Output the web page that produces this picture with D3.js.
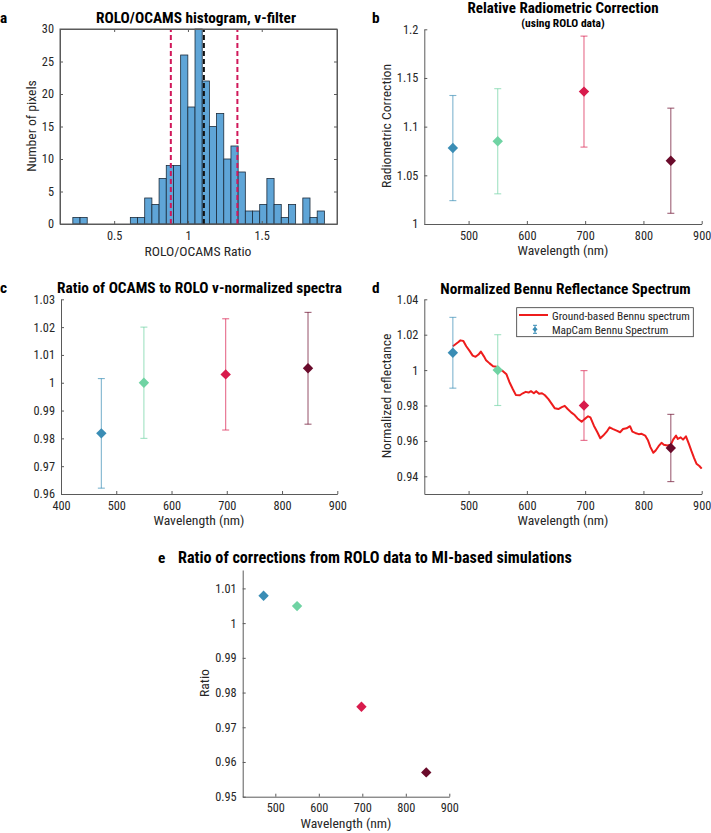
<!DOCTYPE html>
<html>
<head>
<meta charset="utf-8">
<script src="https://cdn.jsdelivr.net/npm/d3@7"></script>
<style>
  html, body { margin: 0; padding: 0; background: #fff; }
  svg { display: block; }
</style>
</head>
<body>
<svg id="chart" width="711" height="833"></svg>
<script>
// ---------------- DATA ----------------
// Panel a: histogram
const histCounts = [1,1,0,0,0,0,0,0,1,1,4,3,7,9,9,26,18,30,22,15,17,10,12,8,2,2,3,7,3,1,3,0,4,1,2];
const histBinStart = 0.22;
const histBinWidth = 0.0487;
const histRedLines = [0.884, 1.335];
const histBlackLine = 1.108;
const histXTicks = [0.5, 1, 1.5];
const histYTicks = [0, 5, 10, 15, 20, 25, 30];

// Shared filters
const wavelengths = [473, 550, 698, 847];
const filterColors = ["#3a8db5", "#6fd3a3", "#d81b4c", "#6a0b2b"];

// Panel b
const radCorr = [1.078, 1.085, 1.136, 1.065];
const radCorrErr = [0.054, 0.054, 0.057, 0.054];
const bYTicks = [1, 1.05, 1.1, 1.15, 1.2];
const wlTicks = [500, 600, 700, 800, 900];

// Panel c
const specRatio = [0.9818, 1.000, 1.003, 1.0052];
const specRatioErr = [0.0197, 0.020, 0.020, 0.0201];
const cXTicks = [400, 500, 600, 700, 800, 900];
const cYTicks = [0.96, 0.97, 0.98, 0.99, 1, 1.01, 1.02, 1.03];

// Panel d
const normRefl = [1.0098, 1.000, 0.980, 0.9560];
const normReflErr = [0.020, 0.020, 0.0197, 0.019];
const dYTicks = [0.94, 0.96, 0.98, 1, 1.02, 1.04];
const groundWl = [473,482,486,491,496,502,507,512,517,521,526,530,536,542,548,553,559,565,570,576,581,588,593,598,603,607,612,616,621,626,631,637,643,648,654,660,665,670,676,682,687,694,699,705,709,715,721,726,731,737,742,748,754,760,765,771,777,781,786,792,797,803,808,812,817,821,826,831,835,841,847,851,856,859,864,868,873,878,882,887,891,896,900];
const groundRefl = [1.0135,1.0157,1.0168,1.0165,1.0135,1.0107,1.0082,1.0075,1.0088,1.0105,1.0079,1.0056,1.0038,1.0022,1.0019,1.0004,0.9994,0.9976,0.9933,0.9892,0.9860,0.9858,0.9869,0.9877,0.9873,0.9881,0.9869,0.9881,0.9866,0.9869,0.9858,0.9836,0.9808,0.9784,0.9780,0.9791,0.9798,0.9780,0.9761,0.9746,0.9727,0.9708,0.9723,0.9739,0.9733,0.9686,0.9649,0.9615,0.9630,0.9652,0.9677,0.9667,0.9658,0.9649,0.9667,0.9671,0.9683,0.9652,0.9645,0.9638,0.9640,0.9630,0.9602,0.9565,0.9533,0.9546,0.9570,0.9589,0.9578,0.9574,0.9578,0.9607,0.9630,0.9611,0.9620,0.9607,0.9626,0.9583,0.9546,0.9503,0.9471,0.9458,0.9443];
const legendLabels = ["Ground-based Bennu spectrum", "MapCam Bennu Spectrum"];

// Panel e
const corrRatio = [1.0079, 1.0049, 0.9759, 0.957];
const eYTicks = [0.95, 0.96, 0.97, 0.98, 0.99, 1, 1.01];

// ---------------- DRAWING ----------------
const FONT = "'Liberation Sans Narrow','Arial Narrow','Roboto Condensed','DejaVu Sans Condensed','Liberation Sans',sans-serif";
const TXT = "#262626";
const AX = "#5a5a5a";
const svg = d3.select("#chart").style("font-family", FONT);
svg.append("rect").attr("width", 711).attr("height", 833).attr("fill", "#fff");

// size fonts so that reference text widths are matched with the installed font
function fitSize(str, target, bold) {
  const t = svg.append("text").text(str).style("font-size", "20px")
    .style("font-weight", bold ? "bold" : "normal").style("font-family", FONT);
  const w = t.node().getComputedTextLength();
  t.remove();
  return w > 0 ? 20 * target / w : 14;
}
const clamp = (v, lo, hi) => Math.min(hi, Math.max(lo, v));
const TITLE_FS = clamp(fitSize("Ratio of OCAMS to ROLO v-normalized spectra", 285, true), 13, 16.5);
const TITLE_E_FS = clamp(fitSize("Ratio of corrections from ROLO data to MI-based simu", 350, true), 13, 17);
const SUB_FS = clamp(fitSize("(using ROLO data)", 88, true), 9.5, 11.5);
const LAB_FS = clamp(fitSize("Wavelength (nm)", 91, false), 12, 15);
const TICK_FS = clamp(fitSize("1.03", 21.5, false), 10.5, 14);
const LEG_FS = clamp(fitSize("Ground-based Bennu spectrum", 138, false), 10.5, 14);

const fmt = v => String(v);

function styleAxis(g) {
  g.select(".domain").attr("stroke", AX).attr("stroke-width", 1);
  g.selectAll(".tick line").attr("stroke", AX).attr("stroke-width", 1);
  g.selectAll(".tick text").attr("fill", TXT).style("font-size", TICK_FS + "px").style("font-family", FONT);
}

function drawAxes(g, x, y, xt, yt, box) {
  const yb = y.range()[0], yt0 = y.range()[1];
  const xl = x.range()[0], xr = x.range()[1];
  g.append("g").attr("transform", `translate(0,${yb})`)
    .call(d3.axisBottom(x).tickValues(xt).tickFormat(fmt).tickSizeInner(-3).tickSizeOuter(0).tickPadding(7))
    .call(styleAxis);
  g.append("g").attr("transform", `translate(${xl},0)`)
    .call(d3.axisLeft(y).tickValues(yt).tickFormat(fmt).tickSizeInner(-3).tickSizeOuter(0).tickPadding(6))
    .call(styleAxis);
  if (box) {
    g.append("g").attr("transform", `translate(0,${yt0})`)
      .call(d3.axisTop(x).tickValues(xt).tickFormat("").tickSizeInner(-3).tickSizeOuter(0))
      .call(styleAxis);
    g.append("g").attr("transform", `translate(${xr},0)`)
      .call(d3.axisRight(y).tickValues(yt).tickFormat("").tickSizeInner(-3).tickSizeOuter(0))
      .call(styleAxis);
  }
}

function label(txt, x, y, opts = {}) {
  const t = svg.append("text").attr("x", x).attr("y", y).text(txt)
    .attr("fill", opts.fill || TXT)
    .attr("text-anchor", opts.anchor || "middle")
    .style("font-size", (opts.size || LAB_FS) + "px")
    .style("font-weight", opts.bold ? "bold" : "normal");
  if (opts.rotate) {
    t.attr("transform", `rotate(-90,${x},${y})`).attr("dy", "0.35em");
  }
  return t;
}

function diamondPath(cx, cy, r) {
  return `M${cx},${cy - r}L${cx + r},${cy}L${cx},${cy + r}L${cx - r},${cy}Z`;
}

function drawErrorPoints(g, x, y, vals, errs) {
  wavelengths.forEach((w, i) => {
    const cx = x(w);
    const col = filterColors[i];
    if (errs) {
      const y1 = y(vals[i] - errs[i]), y2 = y(vals[i] + errs[i]);
      const eg = g.append("g").attr("stroke", col).attr("stroke-width", 1.1).attr("stroke-opacity", 0.65);
      eg.append("line").attr("x1", cx).attr("x2", cx).attr("y1", y1).attr("y2", y2);
      eg.append("line").attr("x1", cx - 3.5).attr("x2", cx + 3.5).attr("y1", y1).attr("y2", y1);
      eg.append("line").attr("x1", cx - 3.5).attr("x2", cx + 3.5).attr("y1", y2).attr("y2", y2);
    }
    g.append("path").attr("d", diamondPath(cx, y(vals[i]), 5.2)).attr("fill", col);
  });
}

// ---- Panel a ----
{
  const x = d3.scaleLinear().domain([0.133, 2.01]).range([60, 337]);
  const y = d3.scaleLinear().domain([0, 30]).range([224, 29]);
  const g = svg.append("g");
  g.append("g").selectAll("rect").data(histCounts).join("rect")
    .attr("x", (d, i) => x(histBinStart + i * histBinWidth))
    .attr("width", (d, i) => x(histBinStart + (i + 1) * histBinWidth) - x(histBinStart + i * histBinWidth))
    .attr("y", d => y(d))
    .attr("height", d => y(0) - y(d))
    .attr("fill", d => d > 0 ? "#5fa5d7" : "none")
    .attr("stroke", d => d > 0 ? "#1c2c3c" : "none")
    .attr("stroke-width", 0.8);
  g.append("g").selectAll("line").data(histRedLines).join("line")
    .attr("x1", d => x(d)).attr("x2", d => x(d))
    .attr("y1", y(0)).attr("y2", y(30))
    .attr("stroke", "#d0185a").attr("stroke-width", 2).attr("stroke-dasharray", "5,3");
  g.append("line").attr("x1", x(histBlackLine)).attr("x2", x(histBlackLine))
    .attr("y1", y(0)).attr("y2", y(30))
    .attr("stroke", "#111").attr("stroke-width", 2).attr("stroke-dasharray", "5,3");
  g.append("rect").attr("x", 60).attr("y", 29).attr("width", 277).attr("height", 195)
    .attr("fill", "none").attr("stroke", AX).attr("stroke-width", 1);
  drawAxes(g, x, y, histXTicks, histYTicks, true);
  label("ROLO/OCAMS histogram, v-filter", 196, 23, { bold: true, size: TITLE_FS, fill: "#000" });
  label("a", 0, 23, { bold: true, size: TITLE_FS, anchor: "start", fill: "#000" });
  label("ROLO/OCAMS Ratio", 198, 256);
  label("Number of pixels", 31, 126, { rotate: true });
}

// ---- Panel b ----
{
  const x = d3.scaleLinear().domain([424, 900]).range([424.3, 701.7]);
  const y = d3.scaleLinear().domain([1, 1.2]).range([224, 29.3]);
  const g = svg.append("g");
  drawAxes(g, x, y, wlTicks, bYTicks, false);
  drawErrorPoints(g, x, y, radCorr, radCorrErr);
  label("Relative Radiometric Correction", 563, 12.5, { bold: true, size: Math.min(TITLE_FS, 15), fill: "#000" });
  label("(using ROLO data)", 563, 27, { bold: true, size: SUB_FS, fill: "#000" });
  label("b", 372, 22.7, { bold: true, size: TITLE_FS, anchor: "start", fill: "#000" });
  label("Wavelength (nm)", 563, 255);
  label("Radiometric Correction", 386, 126, { rotate: true });
}

// ---- Panel c ----
{
  const x = d3.scaleLinear().domain([400, 900]).range([61, 337.3]);
  const y = d3.scaleLinear().domain([0.96, 1.03]).range([494, 299.3]);
  const g = svg.append("g");
  drawAxes(g, x, y, cXTicks, cYTicks, false);
  drawErrorPoints(g, x, y, specRatio, specRatioErr);
  label("Ratio of OCAMS to ROLO v-normalized spectra", 199.5, 293, { bold: true, size: TITLE_FS, fill: "#000" });
  label("c", 0, 293, { bold: true, size: TITLE_FS, anchor: "start", fill: "#000" });
  label("Wavelength (nm)", 199, 525);
}

// ---- Panel d ----
{
  const x = d3.scaleLinear().domain([424, 900]).range([424.3, 701.7]);
  const y = d3.scaleLinear().domain([0.93, 1.04]).range([494, 299.3]);
  const g = svg.append("g");
  drawAxes(g, x, y, wlTicks, dYTicks, false);
  const line = d3.line().x(d => x(d[0])).y(d => y(d[1]));
  g.append("path").datum(groundWl.map((w, i) => [w, groundRefl[i]]))
    .attr("d", line).attr("fill", "none").attr("stroke", "#ee1c1c")
    .attr("stroke-width", 2).attr("stroke-linejoin", "round");
  drawErrorPoints(g, x, y, normRefl, normReflErr);
  // legend
  const lg = g.append("g");
  lg.append("rect").attr("x", 516.7).attr("y", 307.7).attr("width", 176.6).attr("height", 29)
    .attr("fill", "#fff").attr("stroke", "#333").attr("stroke-width", 0.8);
  lg.append("line").attr("x1", 519).attr("x2", 548).attr("y1", 315).attr("y2", 315)
    .attr("stroke", "#ee1c1c").attr("stroke-width", 2);
  const mx = 535, my = 329.3;
  const mg = lg.append("g").attr("stroke", filterColors[0]).attr("stroke-width", 1);
  mg.append("line").attr("x1", mx).attr("x2", mx).attr("y1", my - 4).attr("y2", my + 4);
  mg.append("line").attr("x1", mx - 2).attr("x2", mx + 2).attr("y1", my - 4).attr("y2", my - 4);
  mg.append("line").attr("x1", mx - 2).attr("x2", mx + 2).attr("y1", my + 4).attr("y2", my + 4);
  lg.append("path").attr("d", diamondPath(mx, my, 2.6)).attr("fill", filterColors[0]);
  legendLabels.forEach((t, i) => {
    lg.append("text").attr("x", 552).attr("y", 319.5 + i * 14).text(t)
      .attr("fill", TXT).style("font-size", LEG_FS + "px");
  });
  label("Normalized Bennu Reflectance Spectrum", 565.5, 294, { bold: true, size: TITLE_FS, fill: "#000" });
  label("d", 372, 293, { bold: true, size: TITLE_FS, anchor: "start", fill: "#000" });
  label("Wavelength (nm)", 563, 525);
  label("Normalized reflectance", 386, 396, { rotate: true });
}

// ---- Panel e ----
{
  const x = d3.scaleLinear().domain([425, 900]).range([242.7, 449.3]);
  const y = d3.scaleLinear().domain([0.95, 1.0153]).range([796.7, 570]);
  const g = svg.append("g");
  drawAxes(g, x, y, wlTicks, eYTicks, false);
  drawErrorPoints(g, x, y, corrRatio, null);
  label("Ratio of corrections from ROLO data to MI-based simulations", 178, 563, { bold: true, size: TITLE_E_FS, anchor: "start", fill: "#000" });
  label("e", 158, 563, { bold: true, size: TITLE_FS, anchor: "start", fill: "#000" });
  label("Wavelength (nm)", 346, 828);
  label("Ratio", 204, 683, { rotate: true });
}
</script>
</body>
</html>
